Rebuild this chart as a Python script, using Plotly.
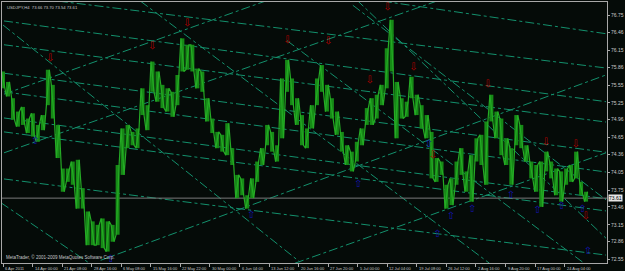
import plotly.graph_objects as go

# ---------------- data ----------------
bar_x = list(range(2, 588, 5))
bar_high = [75.79, 75.61, 75.33, 75.10, 75.18, 74.98, 75.07, 74.87, 75.04, 75.82,
            75.56, 74.87, 74.12, 74.12, 74.24, 74.27, 73.78, 73.38, 73.21, 73.15,
            73.26, 73.21, 73.15, 74.18, 74.81, 74.87, 74.75, 74.81, 75.50, 75.21,
            75.96, 75.79, 75.56, 75.50, 75.44, 75.73, 76.36, 76.25, 76.25, 75.84,
            75.79, 75.33, 74.98, 74.75, 74.70, 74.90, 74.47, 74.01, 73.95, 73.66,
            73.95, 74.24, 74.47, 74.87, 74.75, 74.52, 75.67, 75.99, 75.67, 75.33,
            75.04, 74.81, 75.21, 75.67, 75.90, 75.56, 75.33, 75.10, 74.75, 74.52,
            74.41, 74.58, 74.81, 75.16, 75.33, 75.39, 75.56, 76.19, 76.68, 75.61,
            75.33, 75.27, 75.70, 75.39, 75.21, 75.04, 74.75, 74.30, 74.24, 73.84,
            73.95, 74.24, 74.47, 74.07, 74.35, 74.64, 74.70, 74.93, 75.39, 75.10,
            74.98, 74.64, 74.47, 75.04, 74.87, 74.52, 74.24, 74.18, 74.24, 74.41,
            74.24, 74.12, 74.07, 74.12, 74.18, 74.41, 73.89, 73.72]
bar_low = [75.50, 75.36, 74.96, 74.84, 74.87, 74.73, 74.67, 74.58, 74.78, 75.21,
           74.98, 74.30, 73.72, 73.89, 73.84, 73.43, 73.43, 72.80, 72.80, 72.80,
           72.75, 72.69, 72.86, 72.98, 74.01, 74.47, 74.52, 74.47, 75.04, 74.78,
           75.44, 75.27, 75.16, 75.10, 75.01, 75.21, 75.79, 75.82, 75.79, 75.50,
           75.44, 74.93, 74.73, 74.47, 74.41, 74.35, 74.18, 73.61, 73.66, 73.43,
           73.61, 73.89, 74.18, 74.52, 74.41, 74.24, 74.64, 75.44, 75.21, 74.87,
           74.52, 74.47, 74.81, 75.21, 75.44, 75.10, 74.98, 74.70, 74.41, 74.18,
           74.07, 74.24, 74.52, 74.87, 74.87, 74.98, 75.21, 75.50, 75.79, 74.64,
           74.98, 75.01, 75.33, 75.04, 74.81, 74.64, 73.95, 73.89, 74.01, 73.43,
           73.49, 73.84, 74.01, 73.72, 73.55, 74.24, 74.18, 73.84, 74.93, 74.64,
           74.35, 74.18, 73.84, 74.52, 74.47, 74.24, 73.95, 73.72, 73.46, 74.07,
           73.95, 73.66, 73.55, 73.84, 73.89, 73.95, 73.66, 73.55]

fractal_up_x = [49.3, 151.7, 186.7, 287.3, 328.3, 370, 387.7, 413.7, 433.3, 488.3, 546.7, 576.7, 586.7]
fractal_up_p = [76.02, 76.22, 76.62, 76.32, 76.31, 75.63, 76.89, 75.86, 74.34, 75.57, 74.56, 74.53, 73.29]
fractal_dn_x = [34.3, 110, 251, 358.3, 429, 438, 451.5, 472.7, 511.7, 538.3, 562.3, 583.3, 589]
fractal_dn_p = [74.58, 72.55, 73.31, 73.84, 74.54, 72.99, 73.29, 73.42, 73.66, 73.39, 73.46, 73.41, 72.70]

# trend lines: x0, p0, x1, p1
# slow descending channel lines
line_x0 = [58, 383, 3, 3, 3, 3, 3, 3, 3,
           # rising lines
           100, 3, 295, 3,
           # steep descending lines
           2, 140, 0, 353, 287, 357]
line_p0 = [77.00, 77.00, 76.66, 76.25, 75.76, 75.44, 74.99, 74.75, 73.94,
           72.54, 74.39, 72.49, 75.40,
           76.59, 77.00, 73.53, 76.93, 76.32, 77.02]
line_x1 = [607, 607, 607, 607, 607, 607, 607, 607, 607,
           607, 437, 607, 265,
           300, 490, 87, 607, 585, 607]
line_p1 = [75.85, 76.44, 75.27, 74.92, 74.40, 74.06, 73.60, 73.39, 72.63,
           75.73, 77.00, 74.39, 77.00,
           72.51, 72.49, 72.51, 73.58, 72.49, 72.92]

last_price = 73.61

x_tick_pos = [2, 31.6, 61.3, 91, 120.6, 150.3, 180, 209.6, 239.3, 268.9, 298.6,
              328.2, 357.9, 387.6, 417.2, 446.9, 476.5, 506.2, 535.9, 565.5]
x_tick_text = ["6 Apr 2011", "14 Apr 00:00", "21 Apr 08:00", "28 Apr 16:00", "6 May 08:00",
               "15 May 16:00", "22 May 22:00", "30 May 00:00", "6 Jun 04:00", "13 Jun 12:00",
               "20 Jun 16:00", "27 Jun 20:00", "5 Jul 00:00", "12 Jul 04:00", "19 Jul 08:00",
               "26 Jul 12:00", "2 Aug 16:00", "9 Aug 20:00", "17 Aug 00:00", "24 Aug 04:00"]
y_tick_vals = [76.75, 76.46, 76.15, 75.86, 75.55, 75.25, 74.96, 74.65, 74.36, 74.05,
               73.75, 73.46, 73.15, 72.86, 72.55]
y_tick_text = ["76.75", "76.46", "76.15", "75.86", "75.55", "75.25", "74.96", "74.65", "74.36", "74.05",
               "73.75", "73.46", "73.15", "72.86", "72.55"]

# ---------------- figure ----------------
BG = "#050b08"
FG = "#a8a8a8"
FONT = "Liberation Sans"

fig = go.Figure()

# trend lines
for x0, p0, x1, p1 in zip(line_x0, line_p0, line_x1, line_p1):
    fig.add_trace(go.Scatter(x=[x0, x1], y=[p0, p1], mode="lines",
                             line=dict(color="#13906c", width=1, dash="dashdot"),
                             hoverinfo="skip", showlegend=False))

# last price line
fig.add_trace(go.Scatter(x=[1, 608], y=[last_price, last_price], mode="lines",
                         line=dict(color="#7a7a7a", width=1), hoverinfo="skip", showlegend=False))

# price bars (vertical high-low segments)
bx, by = [], []
for x, h, l in zip(bar_x, bar_high, bar_low):
    bx += [x, x, None]
    by += [l, h, None]
fig.add_trace(go.Scatter(x=bx, y=by, mode="lines", line=dict(color="#168a16", width=4),
                         hoverinfo="skip", showlegend=False))
# zigzag path joining consecutive bars
zx, zy = [], []
for i, (x, h, l) in enumerate(zip(bar_x, bar_high, bar_low)):
    zx += [x - 1.5, x + 1.5]
    zy += [h, l] if i % 2 == 0 else [l, h]
fig.add_trace(go.Scatter(x=zx, y=zy, mode="lines", line=dict(color="#25aa25", width=1.2),
                         hoverinfo="skip", showlegend=False))

# fractal arrows
fig.add_trace(go.Scatter(x=fractal_up_x, y=fractal_up_p, mode="text", text=["⇩"] * len(fractal_up_x),
                         textfont=dict(color="#b40000", size=10, family="DejaVu Sans"),
                         hoverinfo="skip", showlegend=False))
fig.add_trace(go.Scatter(x=fractal_dn_x, y=fractal_dn_p, mode="text", text=["⇧"] * len(fractal_dn_x),
                         textfont=dict(color="#1414b4", size=10, family="DejaVu Sans"),
                         hoverinfo="skip", showlegend=False))

annotations = []
for xp, t in zip(x_tick_pos, x_tick_text):
    annotations.append(dict(x=xp, y=0, xref="x", yref="paper", text=t, showarrow=False,
                            xanchor="left", yanchor="top", xshift=0, yshift=-1,
                            font=dict(size=4, color="#c8c8c8", family=FONT)))
annotations.append(dict(x=0, y=1, xref="paper", yref="paper",
                        text="USDJPY,H4  73.66 73.70 73.54 73.61", showarrow=False,
                        xanchor="left", yanchor="top", xshift=3, yshift=-1,
                        font=dict(size=4.2, color="#c8c8c8", family=FONT)))
annotations.append(dict(x=0, y=0, xref="paper", yref="paper",
                        text="MetaTrader, © 2001-2009 MetaQuotes Software Corp.", showarrow=False,
                        xanchor="left", yanchor="bottom", xshift=2, yshift=1,
                        font=dict(size=4.5, color="#c8c8c8", family=FONT)))
annotations.append(dict(x=1, y=last_price, xref="paper", yref="y", text="73.61", showarrow=False,
                        xanchor="left", yanchor="middle", xshift=1,
                        bgcolor="#e6e6e6", borderpad=0,
                        font=dict(size=5, color="#000000", family=FONT)))

fig.update_layout(
    width=625, height=271,
    margin=dict(l=1, r=17, t=2, b=8),
    paper_bgcolor=BG, plot_bgcolor=BG,
    showlegend=False,
    annotations=annotations,
    xaxis=dict(range=[1, 608], showgrid=False, zeroline=False,
               tickmode="array", tickvals=x_tick_pos, showticklabels=False,
               ticks="outside", ticklen=3, tickcolor=FG,
               showline=True, mirror=True, linecolor=FG, linewidth=1),
    yaxis=dict(range=[72.4935, 76.986], side="right", showgrid=False, zeroline=False,
               tickmode="array", tickvals=y_tick_vals, ticktext=y_tick_text,
               ticks="outside", ticklen=2, tickcolor=FG,
               tickfont=dict(size=5, color="#c8c8c8", family=FONT),
               showline=True, mirror=True, linecolor=FG, linewidth=1),
)

fig.write_html("out.html")
